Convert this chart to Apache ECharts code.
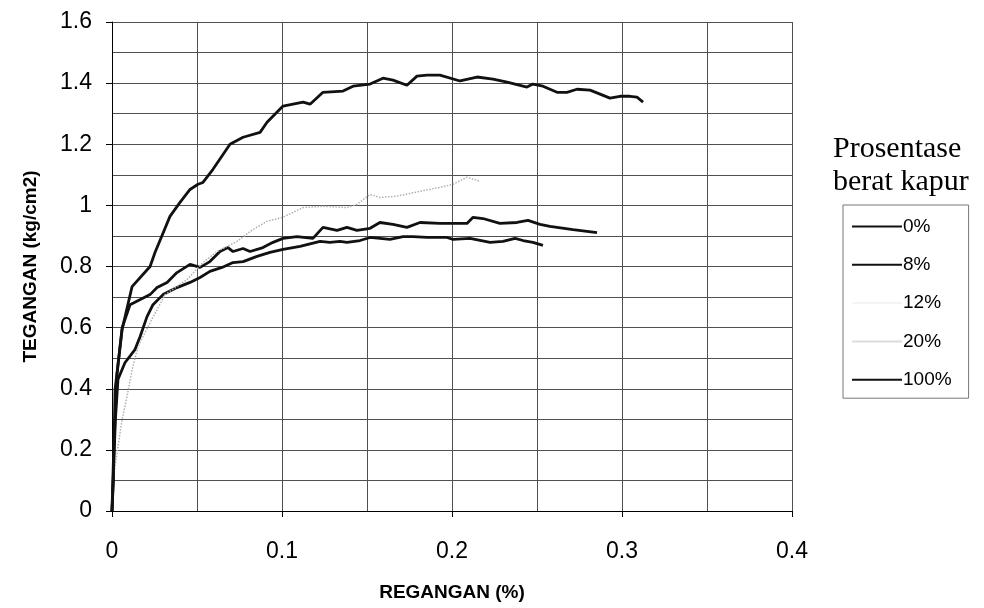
<!DOCTYPE html>
<html>
<head>
<meta charset="utf-8">
<script src="https://cdn.jsdelivr.net/npm/echarts@6/dist/echarts.min.js"></script>
<style>
  html, body { margin: 0; padding: 0; background: #fff; }
  #chart { width: 984px; height: 608px; }
</style>
</head>
<body>
<div id="chart"></div>
<script>
// [regangan %, tegangan kg/cm2]
const kapur0 = [
  [0, 0], [0.001, 0.15], [0.002, 0.3], [0.0035, 0.43], [0.0076, 0.485], [0.0135, 0.528],
  [0.0165, 0.57], [0.0206, 0.636], [0.0241, 0.675], [0.03, 0.708], [0.0382, 0.731],
  [0.0459, 0.748], [0.0518, 0.764], [0.0576, 0.784], [0.0647, 0.797], [0.0712, 0.813],
  [0.0771, 0.816], [0.0853, 0.833], [0.0929, 0.846], [0.1006, 0.856], [0.1106, 0.866],
  [0.1224, 0.882], [0.1282, 0.879], [0.1341, 0.882], [0.1382, 0.879], [0.1459, 0.885],
  [0.1518, 0.895], [0.1635, 0.889], [0.1712, 0.898], [0.1771, 0.898], [0.1853, 0.895],
  [0.1971, 0.895], [0.2006, 0.889], [0.2106, 0.892], [0.2224, 0.879], [0.23, 0.882],
  [0.2371, 0.892], [0.2418, 0.885], [0.2476, 0.879], [0.2535, 0.869]
]
const kapur8 = [
  [0, 0], [0.001, 0.2], [0.003, 0.45], [0.006, 0.6], [0.0106, 0.675], [0.0224, 0.708],
  [0.0265, 0.731], [0.0324, 0.748], [0.0382, 0.78], [0.0459, 0.807], [0.0518, 0.797],
  [0.0576, 0.816], [0.0635, 0.849], [0.0682, 0.862], [0.0712, 0.849], [0.0771, 0.859],
  [0.0812, 0.849], [0.0888, 0.862], [0.0947, 0.879], [0.1006, 0.892], [0.1088, 0.898],
  [0.1182, 0.892], [0.1241, 0.928], [0.1324, 0.918], [0.1382, 0.928], [0.1441, 0.918],
  [0.1518, 0.925], [0.1576, 0.944], [0.1653, 0.938], [0.1735, 0.928], [0.1812, 0.944],
  [0.1929, 0.941], [0.2088, 0.941], [0.2124, 0.961], [0.2182, 0.957], [0.2282, 0.941],
  [0.2382, 0.944], [0.2447, 0.951], [0.2518, 0.938], [0.2576, 0.931], [0.2712, 0.921],
  [0.2853, 0.911]
]
const kapur12 = []
const kapur20 = [
  [0, 0], [0.0006, 0.1], [0.0035, 0.21], [0.0059, 0.298], [0.0088, 0.374], [0.0118, 0.462],
  [0.0153, 0.538], [0.0224, 0.616], [0.0312, 0.708], [0.0441, 0.757], [0.0535, 0.813],
  [0.0618, 0.849], [0.0735, 0.882], [0.0829, 0.921], [0.0912, 0.948], [0.1006, 0.961],
  [0.1124, 0.993], [0.1241, 0.997], [0.1382, 0.993], [0.1441, 1.003], [0.1518, 1.036],
  [0.1576, 1.026], [0.1676, 1.03], [0.1812, 1.046], [0.1929, 1.059], [0.2006, 1.069],
  [0.2088, 1.092], [0.2165, 1.079]
]
const kapur100 = [
  [0, 0], [0.0008, 0.1], [0.0018, 0.397], [0.0059, 0.593], [0.0118, 0.734], [0.0224, 0.8],
  [0.0253, 0.846], [0.0341, 0.964], [0.04, 1.01], [0.0459, 1.052], [0.0506, 1.069],
  [0.0535, 1.075], [0.0594, 1.118], [0.0694, 1.2], [0.0771, 1.223], [0.0871, 1.239],
  [0.0912, 1.272], [0.1006, 1.325], [0.1124, 1.338], [0.1165, 1.331], [0.1241, 1.37],
  [0.1359, 1.374], [0.1418, 1.39], [0.1518, 1.397], [0.1594, 1.416], [0.1653, 1.41],
  [0.1735, 1.393], [0.1794, 1.423], [0.1853, 1.426], [0.1929, 1.426], [0.2047, 1.407],
  [0.2147, 1.42], [0.2241, 1.413], [0.2324, 1.403], [0.2441, 1.387], [0.2476, 1.397],
  [0.2535, 1.39], [0.2618, 1.37], [0.2676, 1.37], [0.2735, 1.38], [0.2812, 1.377],
  [0.2871, 1.364], [0.2929, 1.351], [0.2988, 1.357], [0.3047, 1.357], [0.3088, 1.354],
  [0.3124, 1.338]
]
const seriesNames = ['0%', '8%', '12%', '20%', '100%']

let myChart = echarts.init(document.getElementById('chart'))

const gridLine = { show: true, lineStyle: { color: '#505050', width: 1, type: 'solid' } }
const legendColor = { '0%': '#111', '8%': '#111', '12%': '#f4f4f4', '20%': '#dcdcdc', '100%': '#111' }

function lineSeries (name, data, color, width, type) {
  return {
    name: name,
    type: 'line',
    data: data,
    symbol: 'none',
    color: color,
    lineStyle: { color: color, width: width, type: type || 'solid' }
  }
}

myChart.setOption({
  animation: false,
  backgroundColor: '#fff',
  title: {
    text: 'Prosentase\nberat kapur',
    left: 828,
    top: 128,
    textStyle: {
      fontFamily: 'Liberation Serif',
      fontWeight: 'normal',
      fontSize: 30,
      lineHeight: 33,
      color: '#000'
    }
  },
  legend: {
    data: seriesNames.map(n => ({ name: n, icon: 'rect', itemStyle: { color: legendColor[n] } })),
    orient: 'vertical',
    left: 843,
    top: 205,
    padding: [12, 17, 9, 9],
    itemGap: 19.3,
    itemWidth: 50,
    itemHeight: 2,
    borderColor: '#777',
    borderWidth: 1,
    textStyle: { fontFamily: 'Liberation Sans', fontSize: 19, lineHeight: 19, color: '#000', padding: [0, 0, 0, -4] }
  },
  grid: {
    left: 112,
    right: 192,
    top: 22,
    bottom: 97
  },
  xAxis: {
    type: 'value',
    min: 0,
    max: 0.4,
    interval: 0.1,
    name: 'REGANGAN (%)',
    nameLocation: 'middle',
    nameGap: 72,
    nameTextStyle: { fontFamily: 'Liberation Sans', fontWeight: 'bold', fontSize: 19, color: '#000' },
    axisLine: { show: true, onZero: false, lineStyle: { color: '#000', width: 1 } },
    axisTick: { show: true, length: 6, lineStyle: { color: '#000' } },
    axisLabel: { margin: 29, fontFamily: 'Liberation Sans', fontSize: 23, color: '#000' },
    splitLine: gridLine,
    minorTick: { show: false, splitNumber: 2 },
    minorSplitLine: gridLine
  },
  yAxis: {
    type: 'value',
    min: 0,
    max: 1.6,
    interval: 0.2,
    name: 'TEGANGAN (kg/cm2)',
    nameLocation: 'middle',
    nameGap: 72,
    nameTextStyle: { fontFamily: 'Liberation Sans', fontWeight: 'bold', fontSize: 19, color: '#000' },
    axisLine: { show: true, lineStyle: { color: '#000', width: 1 } },
    axisTick: { show: true, length: 6, lineStyle: { color: '#000' } },
    axisLabel: { margin: 20, fontFamily: 'Liberation Sans', fontSize: 23, color: '#000' },
    splitLine: gridLine,
    minorTick: { show: false, splitNumber: 2 },
    minorSplitLine: gridLine
  },
  series: [
    lineSeries('0%', kapur0, '#111', 2.8),
    lineSeries('8%', kapur8, '#111', 2.8),
    lineSeries('12%', kapur12, '#f2f2f2', 1),
    lineSeries('20%', kapur20, '#b0b0b0', 1.5, 'dotted'),
    lineSeries('100%', kapur100, '#111', 2.8)
  ]
})
</script>
</body>
</html>
